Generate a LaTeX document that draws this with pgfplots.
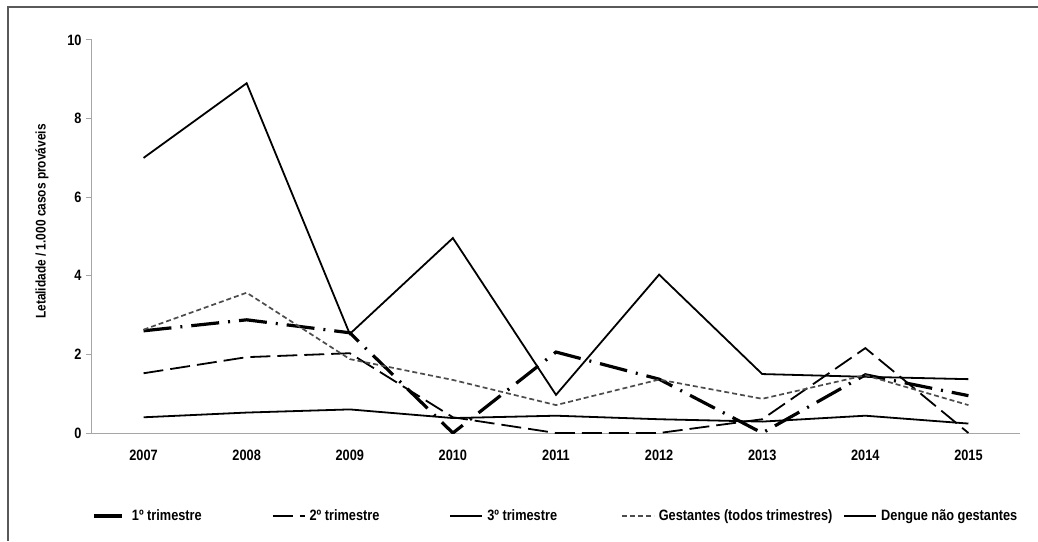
\documentclass[border=0pt]{standalone}
\usepackage{fontspec}
\setmainfont{Liberation Sans}[FakeStretch=0.85]
\usepackage{pgfplots}
\pgfplotsset{compat=1.18}
\begin{document}
\begin{tikzpicture}[x=1pt,y=1pt]
\useasboundingbox (0,0) rectangle (1038,541);
\draw[black!65, line width=1.3pt] (8,0) -- (8,534) -- (1038,534);
\begin{axis}[
  at={(92pt,108pt)}, anchor=south west,
  scale only axis, width=928pt, height=393pt,
  xmin=-0.5, xmax=8.5, ymin=0, ymax=10,
  xtick={0,...,8},
  xticklabels={2007,2008,2009,2010,2011,2012,2013,2014,2015},
  ytick={0,2,4,6,8,10},
  axis x line*=bottom, axis y line*=left,
  axis line style={black!35, line width=1pt},
  x axis line style={-}, y axis line style={-},
  tick align=outside,
  xtick style={draw=none},
  ytick style={black!35, line width=1pt},
  major tick length=6pt,
  /pgf/number format/assume math mode=true,
  tick label style={font=\fontsize{15}{18}\selectfont\bfseries},
  xticklabel style={yshift=-7pt},
  yticklabel style={xshift=-1pt},
  ylabel={Letalidade / 1.000 casos prováveis},
  ylabel style={font=\fontsize{14}{17}\selectfont\bfseries, at={(axis description cs:-0.054,0.538)}, anchor=center, rotate=0},
  legend columns=5,
  legend style={at={(axis description cs:0.5,-0.211)}, anchor=center, draw=none, fill=none,
    font=\fontsize{15}{18}\selectfont\bfseries,
    /tikz/every odd column/.append style={column sep=2pt},
    /tikz/column 2/.style={column sep=68pt},
    /tikz/column 4/.style={column sep=68pt},
    /tikz/column 6/.style={column sep=62pt},
    /tikz/column 8/.style={column sep=9pt}},
  legend image code/.code={\draw[#1] (0pt,0pt) -- (32pt,0pt);},
]
% 1o trimestre
\addplot[black, line width=3.2pt, dash pattern=on 28pt off 9pt on 2pt off 9pt] coordinates {
(0,2.60) (1,2.88) (2,2.55) (3,0) (4,2.06) (5,1.37) (6,0) (7,1.48) (8,0.95)};
\addlegendentry{1º trimestre}
% 2o trimestre
\addplot[black, line width=1.8pt, dash pattern=on 20pt off 7pt] coordinates {
(0,1.52) (1,1.93) (2,2.03) (3,0.40) (4,0) (5,0) (6,0.35) (7,2.16) (8,0)};
\addlegendentry{2º trimestre}
% 3o trimestre
\addplot[black, line width=1.8pt] coordinates {
(0,7.00) (1,8.90) (2,2.52) (3,4.96) (4,0.97) (5,4.03) (6,1.50) (7,1.43) (8,1.37)};
\addlegendentry{3º trimestre}
% Gestantes
\addplot[black!70, line width=1.7pt, dash pattern=on 5pt off 3pt] coordinates {
(0,2.63) (1,3.57) (2,1.88) (3,1.35) (4,0.71) (5,1.36) (6,0.87) (7,1.47) (8,0.71)};
\addlegendentry{Gestantes (todos trimestres)}
% Dengue nao gestantes
\addplot[black, line width=1.8pt] coordinates {
(0,0.40) (1,0.52) (2,0.60) (3,0.38) (4,0.44) (5,0.35) (6,0.29) (7,0.44) (8,0.24)};
\addlegendentry{Dengue não gestantes}
\end{axis}
\end{tikzpicture}
\end{document}
